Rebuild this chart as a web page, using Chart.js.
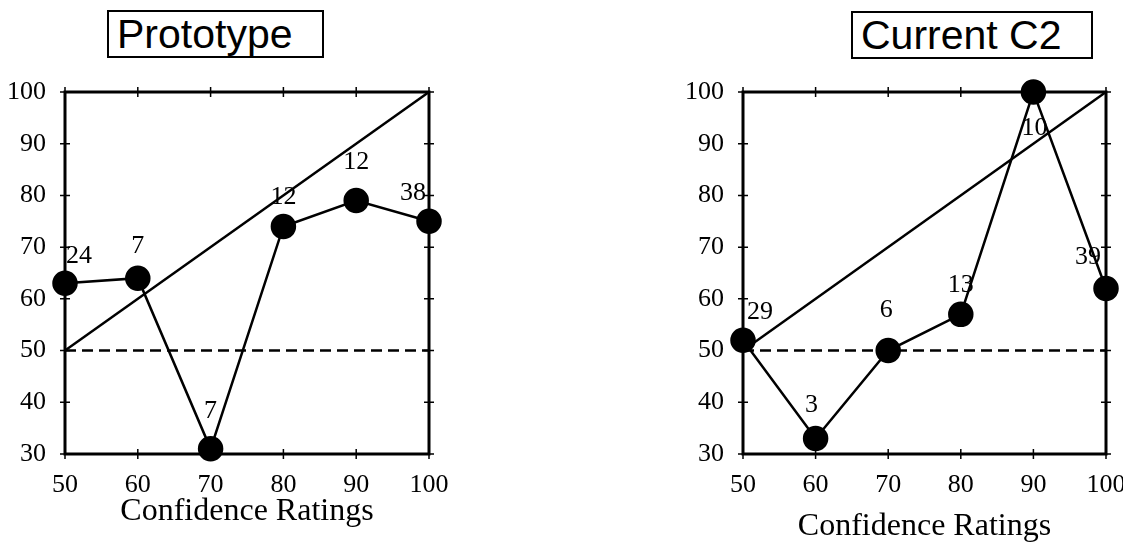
<!DOCTYPE html>
<html>
<head>
<meta charset="utf-8">
<script src="https://cdn.jsdelivr.net/npm/chart.js@4/dist/chart.umd.min.js"></script>
<style>
  body { margin: 0; background: #fff; width: 1123px; height: 544px; position: relative; overflow: hidden; }
  .wrap { position: absolute; top: 0; height: 544px; }
  .box {
    position: absolute; border: 2px solid #000; background: #fff;
    font-family: "Liberation Sans", Arial, sans-serif; font-size: 41px;
    line-height: 44px; padding-left: 8px; box-sizing: border-box; color: #000;
  }
</style>
</head>
<body>
<div class="wrap" style="left:0;width:460px"><canvas id="leftChart"></canvas></div>
<div class="wrap" style="left:680px;width:443px"><canvas id="rightChart"></canvas></div>
<div class="box" style="left:107px;top:10px;width:217px;height:48px">Prototype</div>
<div class="box" style="left:851px;top:11px;width:242px;height:48px">Current C2</div>
<script>
// shared axes
const ratings = [50, 60, 70, 80, 90, 100];
const xTicks = [50, 60, 70, 80, 90, 100];
const yTicks = [30, 40, 50, 60, 70, 80, 90, 100];

// Prototype
const protoValues = [63, 64, 31, 74, 79, 75];
const protoCounts = [24, 7, 7, 12, 12, 38];

// Current C2
const currentValues = [52, 33, 50, 57, 100, 62];
const currentCounts = [29, 3, 6, 13, 10, 39];

// label nudges (px) so numbers sit where the original put them
const protoNudge = [[14, -27], [0, -32], [0, -38], [0, -29], [0, -38], [-16, -28]];
const currentNudge = [[17, -28], [-4, -33], [-2, -40], [0, -29], [1, 36], [-18, -31]];

const serif = "'Liberation Serif', 'Times New Roman', serif";

// frame with cross ticks on all four sides
const framePlugin = {
  id: "frame",
  beforeDatasetsDraw(chart) {
    const { ctx, chartArea: a, scales } = chart;
    ctx.save();
    ctx.strokeStyle = "#000";
    ctx.lineWidth = 1.5;
    xTicks.forEach((v) => {
      const px = scales.x.getPixelForValue(v);
      ctx.beginPath();
      ctx.moveTo(px, a.bottom - 5); ctx.lineTo(px, a.bottom + 5);
      ctx.moveTo(px, a.top - 5); ctx.lineTo(px, a.top + 5);
      ctx.stroke();
    });
    yTicks.forEach((v) => {
      const py = scales.y.getPixelForValue(v);
      ctx.beginPath();
      ctx.moveTo(a.left - 5, py); ctx.lineTo(a.left + 5, py);
      ctx.moveTo(a.right - 5, py); ctx.lineTo(a.right + 5, py);
      ctx.stroke();
    });
    ctx.lineWidth = 3;
    ctx.strokeRect(a.left, a.top, a.right - a.left, a.bottom - a.top);
    ctx.restore();
  },
};

// count labels next to each point
const countPlugin = {
  id: "counts",
  afterDatasetsDraw(chart, args, opts) {
    const { ctx, scales } = chart;
    ctx.save();
    ctx.fillStyle = "#000";
    ctx.font = "26px " + serif;
    ctx.textAlign = "center";
    ctx.textBaseline = "middle";
    opts.counts.forEach((c, i) => {
      const px = scales.x.getPixelForValue(ratings[i]);
      const py = scales.y.getPixelForValue(opts.values[i]);
      ctx.fillText(String(c), px + opts.nudge[i][0], py + opts.nudge[i][1]);
    });
    ctx.restore();
  },
};

function makeChart(id, values, counts, nudge, yWidth, padRight, titlePad) {
  const points = ratings.map((r, i) => ({ x: r, y: values[i] }));
  return new Chart(document.getElementById(id), {
    type: "scatter",
    data: {
      datasets: [
        {
          data: points,
          showLine: true,
          borderColor: "#000",
          borderWidth: 2.5,
          pointRadius: 11.5,
          pointBackgroundColor: "#000",
          pointBorderColor: "#000",
          clip: false,
        },
        {
          data: [{ x: 50, y: 50 }, { x: 100, y: 100 }],
          showLine: true,
          borderColor: "#000",
          borderWidth: 2.5,
          pointRadius: 0,
        },
        {
          data: [{ x: 50, y: 50 }, { x: 100, y: 50 }],
          showLine: true,
          borderColor: "#000",
          borderWidth: 2.5,
          borderDash: [11, 6],
          pointRadius: 0,
        },
      ],
    },
    options: {
      responsive: true,
      maintainAspectRatio: false,
      animation: false,
      layout: { padding: { top: 92, right: padRight, left: 0, bottom: 0 } },
      plugins: {
        legend: { display: false },
        tooltip: { enabled: false },
        counts: { counts: counts, values: values, nudge: nudge },
      },
      scales: {
        x: {
          type: "linear",
          min: 50,
          max: 100,
          grid: { display: false, drawTicks: false },
          border: { display: false },
          afterBuildTicks: (s) => { s.ticks = xTicks.map((v) => ({ value: v })); },
          afterFit: (s) => {
            s.height = 90;
            s.paddingLeft = 0;
            s.paddingRight = 0;
          },
          ticks: { color: "#000", padding: 16, maxRotation: 0, font: { family: serif, size: 26 } },
          title: {
            display: true,
            text: "Confidence Ratings",
            color: "#000",
            font: { family: serif, size: 32, lineHeight: 1 },
            padding: { top: 0, bottom: titlePad },
          },
        },
        y: {
          type: "linear",
          min: 30,
          max: 100,
          grid: { display: false, drawTicks: false },
          border: { display: false },
          afterBuildTicks: (s) => { s.ticks = yTicks.map((v) => ({ value: v })); },
          afterFit: (s) => {
            s.width = yWidth;
            s.paddingTop = 0;
            s.paddingBottom = 0;
          },
          ticks: { color: "#000", padding: 19, font: { family: serif, size: 26 } },
        },
      },
    },
    plugins: [framePlugin, countPlugin],
  });
}

makeChart("leftChart", protoValues, protoCounts, protoNudge, 65, 31, 16);
makeChart("rightChart", currentValues, currentCounts, currentNudge, 63, 17, 1);
</script>
</body>
</html>
